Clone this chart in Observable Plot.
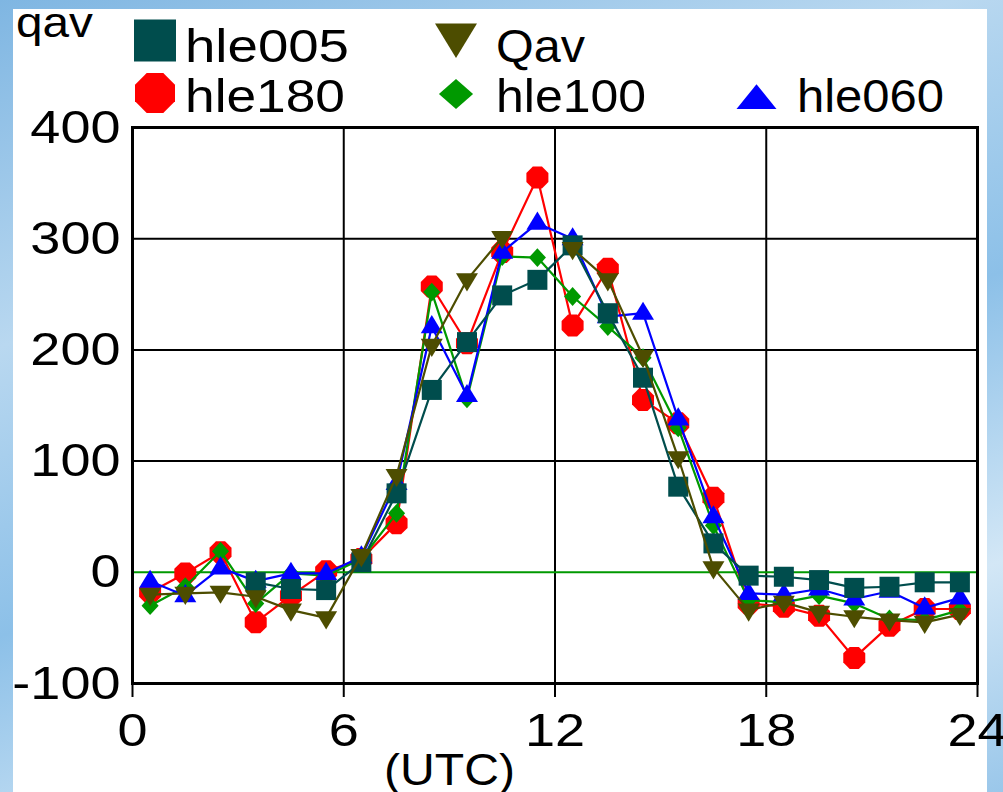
<!DOCTYPE html>
<html>
<head>
<meta charset="utf-8">
<script src="https://cdn.jsdelivr.net/npm/d3@7"></script>
<script src="https://cdn.jsdelivr.net/npm/@observablehq/plot@0.6"></script>
<style>
html, body { margin: 0; padding: 0; }
body {
  width: 1003px; height: 792px; overflow: hidden; position: relative;
  background: linear-gradient(160deg, #7fb6e2 0%, #b9d8f0 30%, #8cc0e8 55%, #d3e7f6 80%, #9ac7ea 100%);
  font-family: "Liberation Sans", Arial, sans-serif;
}
#panel { position: absolute; left: 13px; top: 9px; width: 974px; height: 783px; background: #fff; }
#chart, #overlay { position: absolute; left: 0; top: 0; }
</style>
</head>
<body>
<div id="panel"></div>
<div id="chart"></div>
<svg id="overlay" width="1003" height="792"></svg>
<script>
// ---- data (hour-centred averages, UTC) ----
const hours = [0.5, 1.5, 2.5, 3.5, 4.5, 5.5, 6.5, 7.5, 8.5, 9.5, 10.5, 11.5,
               12.5, 13.5, 14.5, 15.5, 16.5, 17.5, 18.5, 19.5, 20.5, 21.5, 22.5, 23.5];
const hle005 = [null, null, null, -9, -15, -16, 9, 71, 164, 207, 249, 263,
                294, 233, 175, 77, 26, -3, -4, -7, -14, -13, -9, -9];
const Qav    = [-20, -19, -18, -22, -34, -41, 15, 87, 204, 263, 301, null,
                291, 263, 194, 103, 4, -34, -27, -36, -40, -43, -45, -38];
const hle180 = [-18, -1, 18, -45, -21, 1, 12, 44, 257, 206, 288, 355,
                222, 273, 155, 134, 67, -28, -31, -39, -77, -48, -33, -33];
const hle100 = [-30, -13, 19, -28, -1, -3, 12, 53, 252, 156, 284, 283,
                248, 221, 193, 130, 42, -25, -27, -21, -28, -42, -43, -34];
const hle060 = [-8, -21, 4, -8, -1, -1, 14, 80, 221, 159, 288, 314,
                300, 230, 233, 138, 50, -19, -20, -15, -24, -17, -32, -23];
const xTicks = [0, 6, 12, 18, 24];
const yTicks = [-100, 0, 100, 200, 300, 400];
const legendRow1 = ["hle005", "Qav"];
const legendRow2 = ["hle180", "hle100", "hle060"];

// ---- custom symbols (r = half width) ----
const R = size => Math.sqrt(size / Math.PI);
const symSquare = { draw(c, s) { const r = R(s); c.rect(-r, -r, 2 * r, 2 * r); } };
const symOct = { draw(c, s) { const r = R(s) / Math.cos(Math.PI / 8);
  for (let k = 0; k < 8; k++) { const a = Math.PI / 8 + k * Math.PI / 4;
    const x = r * Math.cos(a), y = r * Math.sin(a); k ? c.lineTo(x, y) : c.moveTo(x, y); } c.closePath(); } };
const symDiamond = { draw(c, s) { const r = R(s);
  c.moveTo(0, -r * 1.05); c.lineTo(r * 0.95, 0); c.lineTo(0, r * 1.05); c.lineTo(-r * 0.95, 0); c.closePath(); } };
const symTriUp = { draw(c, s) { const r = R(s);
  c.moveTo(0, -r * 1.05); c.lineTo(r, r * 0.6); c.lineTo(-r, r * 0.6); c.closePath(); } };
const symTriDown = { draw(c, s) { const r = R(s);
  c.moveTo(0, r * 1.05); c.lineTo(r, -r * 0.6); c.lineTo(-r, -r * 0.6); c.closePath(); } };

const series = [
  { name: "hle180", values: hle180, color: "#ff0000", symbol: symOct, r: 11 },
  { name: "hle100", values: hle100, color: "#009900", symbol: symDiamond, r: 9 },
  { name: "hle060", values: hle060, color: "#0000ff", symbol: symTriUp, r: 11 },
  { name: "hle005", values: hle005, color: "#004d4d", symbol: symSquare, r: 10 },
  { name: "Qav",    values: Qav,    color: "#4d4d00", symbol: symTriDown, r: 11 }
];

const seriesMarks = series.flatMap(s => {
  const rows = hours.map((h, i) => ({ h, v: s.values[i] }));
  const pts = rows.filter(d => d.v != null);
  return [
    Plot.line(rows, { x: "h", y: "v", stroke: s.color, strokeWidth: 2.2, defined: d => d.v != null }),
    Plot.dot(pts, { x: "h", y: "v", symbol: s.symbol, r: s.r, fill: s.color, stroke: "none" })
  ];
});

const plot = Plot.plot({
  width: 1003, height: 792,
  marginLeft: 132, marginRight: 26, marginTop: 127, marginBottom: 109,
  style: { background: "transparent", fontFamily: "'Liberation Sans', Arial, sans-serif", color: "#000", overflow: "visible" },
  x: { domain: [0, 24], label: null },
  y: { domain: [-100, 400], label: null },
  marks: [
    Plot.gridX([6, 12, 18], { stroke: "#000", strokeOpacity: 1, strokeWidth: 2 }),
    Plot.gridY([100, 200, 300], { stroke: "#000", strokeOpacity: 1, strokeWidth: 2 }),
    Plot.ruleY([0], { stroke: "#009900", strokeWidth: 2 }),
    ...seriesMarks,
    Plot.frame({ stroke: "#000", strokeWidth: 3 }),
    Plot.axisX({ ticks: xTicks, tickSize: 14, tickPadding: 15, fontSize: 47, strokeWidth: 2, label: null, tickFormat: d => String(d) }),
    Plot.axisY({ ticks: yTicks, tickSize: 0, tickPadding: 12, fontSize: 47, label: null, tickFormat: d => String(d) })
  ]
});
// horizontally widened lettering as in the reference
plot.querySelectorAll("text").forEach(t => {
  const tr = t.getAttribute("transform") || "";
  t.setAttribute("transform", tr + " scale(1.15,1)");
});
document.getElementById("chart").appendChild(plot);

// ---- overlay: legend, axis titles ----
const ov = d3.select("#overlay").style("font-family", "'Liberation Sans', Arial, sans-serif");
const addText = (txt, x, y, size, len) => ov.append("text")
  .attr("x", x).attr("y", y).attr("font-size", size).attr("fill", "#000")
  .attr("textLength", len).attr("lengthAdjust", "spacingAndGlyphs").text(txt);

addText("qav", 16, 37, 42, 77);
addText("(UTC)", 384, 785, 45, 131);

const legSym = {
  hle005: { sym: symSquare, cx: 155, cy: 40.5, r: 21, color: "#004d4d", tx: 185, ty: 62, len: 164 },
  Qav:    { sym: symTriDown, cx: 456, cy: 36, r: 21, color: "#4d4d00", tx: 496, ty: 62, len: 89 },
  hle180: { sym: symOct, cx: 155, cy: 93, r: 20, color: "#ff0000", tx: 185, ty: 112, len: 160 },
  hle100: { sym: symDiamond, cx: 456, cy: 94, r: 18, color: "#009900", tx: 496, ty: 112, len: 150 },
  hle060: { sym: symTriUp, cx: 756.5, cy: 100, r: 20, color: "#0000ff", tx: 797, ty: 112, len: 147 }
};
[...legendRow1, ...legendRow2].forEach(name => {
  const L = legSym[name];
  const sy = name === "hle100" ? 0.8 : (name === "hle060" ? 0.75 : 1);
  ov.append("path")
    .attr("d", d3.symbol(L.sym, L.r * L.r * Math.PI)())
    .attr("transform", `translate(${L.cx},${L.cy}) scale(1,${sy})`)
    .attr("fill", L.color);
  addText(name, L.tx, L.ty, 47, L.len);
});
</script>
</body>
</html>
